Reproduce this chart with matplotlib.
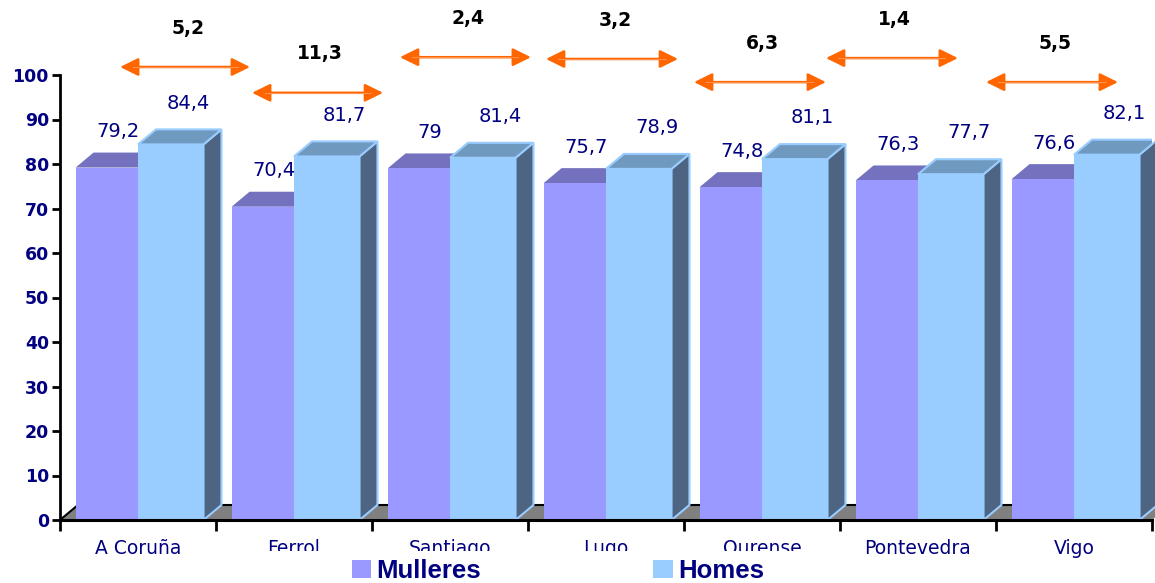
import matplotlib.pyplot as plt
from matplotlib.patches import Polygon, Rectangle, Patch

cidades = ["A Coruña", "Ferrol", "Santiago", "Lugo", "Ourense", "Pontevedra", "Vigo"]
mulleres = [79.2, 70.4, 79.0, 75.7, 74.8, 76.3, 76.6]
homes = [84.4, 81.7, 81.4, 78.9, 81.1, 77.7, 82.1]

# hand-placed difference arrows (x start, x end, y) as in the original
frecha_x0 = [0.385, 1.231, 2.179, 3.115, 4.064, 4.910, 5.936]
frecha_x1 = [1.218, 2.071, 3.019, 3.962, 4.910, 5.756, 6.782]
frecha_y = [101.8, 96.0, 104.0, 103.6, 98.4, 103.8, 98.4]

navy = "#000080"
c_mul, c_mul_top = "#9999FF", "#7472BE"
c_hom, c_hom_top, c_hom_side = "#99CCFF", "#7099C0", "#4D6582"
laranxa = "#FF6600"

dx, dy = 0.115, 3.37  # 3d depth offset

fig = plt.figure(figsize=(11.55, 5.83), dpi=100)
ax = fig.add_axes([60 / 1155, 63 / 583, 1092 / 1155, 445 / 583])
ax.set_xlim(0, 7)
ax.set_ylim(0, 100)

# floor
n = len(cidades)
ax.add_patch(Polygon([(0, 0), (n, 0), (n + dx, dy), (dx, dy)], closed=True,
                     facecolor="#808080", edgecolor="none", clip_on=False, zorder=1))
ax.plot([dx, n + dx], [dy, dy], color="black", lw=1.5, clip_on=False, zorder=1.5)
ax.plot([0, dx], [0, dy], color="black", lw=1.5, clip_on=False, zorder=1.5)

for i in range(n):
    m0, m1 = i + 0.10, i + 0.50
    h0, h1 = i + 0.50, i + 0.92
    m, h = mulleres[i], homes[i]
    # Mulleres
    ax.add_patch(Polygon([(m0, m), (m1, m), (m1 + dx, m + dy), (m0 + dx, m + dy)],
                         closed=True, facecolor=c_mul_top, edgecolor="none", zorder=2))
    ax.add_patch(Rectangle((m0, 0), m1 - m0, m, facecolor=c_mul, edgecolor="none", zorder=2))
    # Homes
    ax.add_patch(Polygon([(h1, 0), (h1 + dx, dy), (h1 + dx, h + dy), (h1, h)],
                         closed=True, facecolor=c_hom_side, edgecolor=c_hom, lw=1.5,
                         clip_on=False, zorder=3))
    ax.add_patch(Polygon([(h0, h), (h1, h), (h1 + dx, h + dy), (h0 + dx, h + dy)],
                         closed=True, facecolor=c_hom_top, edgecolor=c_hom, lw=1.5, zorder=3))
    ax.add_patch(Rectangle((h0, 0), h1 - h0, h, facecolor=c_hom, edgecolor="none", zorder=3.5))
    # value labels
    ax.annotate(f"{m:g}".replace(".", ","), ((m0 + m1) / 2 + dx * 0.6, m + dy),
                xytext=(0, 15), textcoords="offset points", ha="center", va="center",
                fontsize=14, color=navy, zorder=5)
    ax.annotate(f"{h:g}".replace(".", ","), ((h0 + h1) / 2 + dx, h + dy),
                xytext=(0, 19), textcoords="offset points", ha="center", va="center",
                fontsize=14, color=navy, zorder=5)
    # difference arrows
    ax.annotate("", xy=(frecha_x0[i], frecha_y[i]), xytext=(frecha_x1[i], frecha_y[i]),
                arrowprops=dict(arrowstyle="<|-|>,head_length=0.85,head_width=0.42",
                                color=laranxa, lw=1.8, mutation_scale=13,
                                shrinkA=0, shrinkB=0),
                annotation_clip=False, zorder=6)
    ax.plot([frecha_x0[i] + 0.08, frecha_x1[i] - 0.08], [frecha_y[i]] * 2,
            color="#FF9A5C", lw=0.6, clip_on=False, zorder=6.5)
    dif = round(h - m, 1)
    ax.annotate(f"{dif:.1f}".replace(".", ","),
                ((frecha_x0[i] + frecha_x1[i]) / 2, frecha_y[i]),
                xytext=(2, 28), textcoords="offset points", ha="center", va="center",
                fontsize=13.5, fontweight="bold", color="black",
                annotation_clip=False, zorder=6)

# axes
for s in ["top", "right"]:
    ax.spines[s].set_visible(False)
ax.spines["left"].set_linewidth(2)
ax.spines["bottom"].set_linewidth(2.2)
ax.spines["bottom"].set_zorder(4)
ax.set_yticks(range(0, 101, 10))
ax.tick_params(axis="y", direction="out", length=6, width=2, pad=2,
               labelsize=12.5, labelcolor=navy)
for t in ax.get_yticklabels():
    t.set_fontweight("bold")
ax.set_xticks(range(0, n + 1))
ax.set_xticklabels([])
ax.tick_params(axis="x", which="major", direction="out", length=8, width=2)
ax.set_xticks([i + 0.5 for i in range(n)], minor=True)
ax.set_xticklabels(cidades, minor=True)
ax.tick_params(axis="x", which="minor", length=0, pad=14, labelsize=13.5, labelcolor=navy)

# legend on a white strip that covers the lower part of some category labels
fig.add_artist(Rectangle((230 / 1155, 0), 605 / 1155, 32 / 583, transform=fig.transFigure,
                         facecolor="white", edgecolor="none", zorder=3))
handles = [Patch(facecolor=c_mul, edgecolor="none"), Patch(facecolor=c_hom, edgecolor="none")]
leg = fig.legend(handles, ["Mulleres", "Homes"], loc="center", bbox_to_anchor=(558 / 1155, 12 / 583),
                 ncol=2, frameon=False, handlelength=0.75, handleheight=0.75, handletextpad=0.2,
                 columnspacing=6.7, prop={"family": "Liberation Sans", "weight": "bold", "size": 18.5})
for t in leg.get_texts():
    t.set_color(navy)
leg.set_zorder(4)

fig.savefig("out.png", dpi=100)
